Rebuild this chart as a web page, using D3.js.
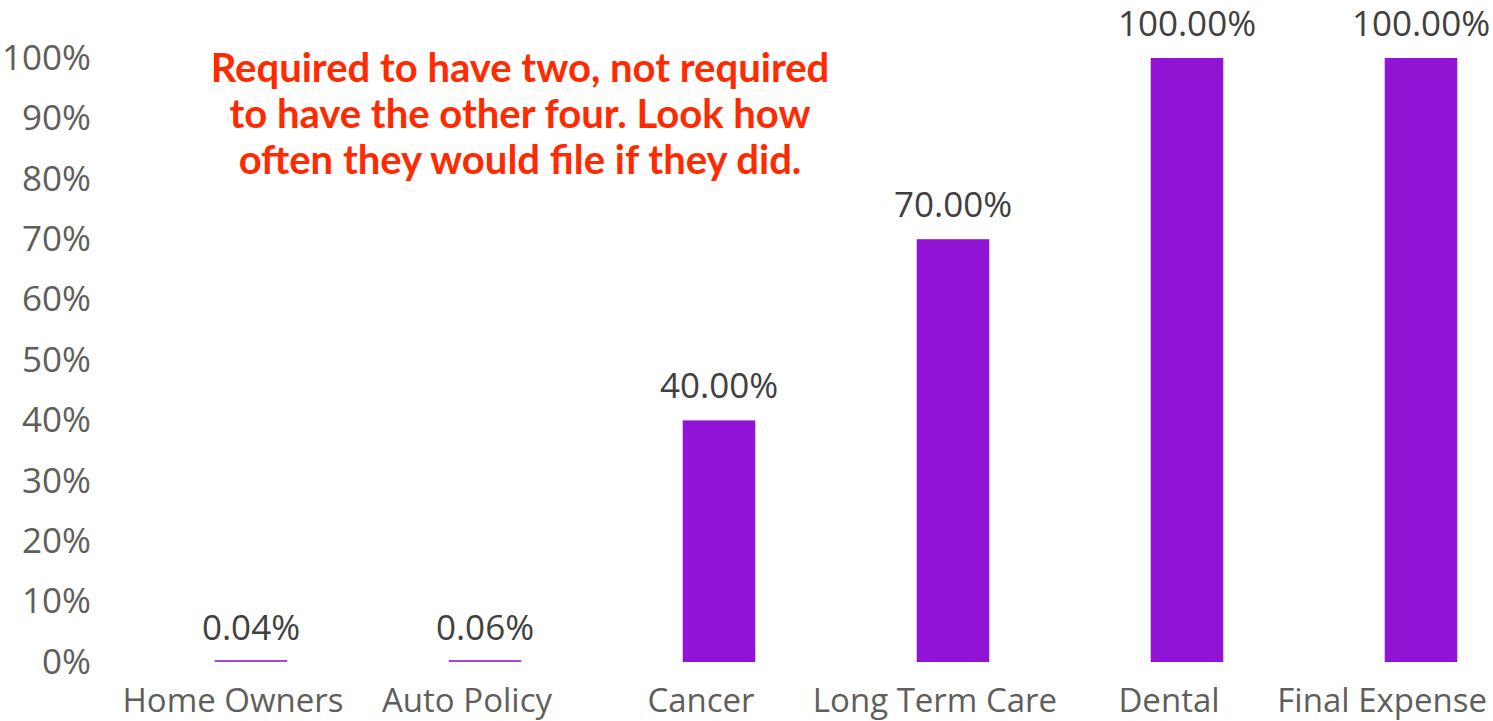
<!DOCTYPE html>
<html>
<head>
<meta charset="utf-8">
<script src="https://cdn.jsdelivr.net/npm/d3@7"></script>
<style>
  body { margin: 0; background: #fff; }
  svg { display: block; }
</style>
</head>
<body>
<script>
// Data
var categories = ['Home Owners', 'Auto Policy', 'Cancer', 'Long Term Care', 'Dental', 'Final Expense'];
var values = [0.0004, 0.0006, 0.40, 0.70, 1.00, 1.00];
var yTicks = [0, 0.1, 0.2, 0.3, 0.4, 0.5, 0.6, 0.7, 0.8, 0.9, 1.0];
var noteLines = ['Required to have two, not required', 'to have the other four. Look how', 'often they would file if they did.'];

var data = categories.map(function(c, i) { return {name: c, value: values[i]}; });

// Set up size
var width = 1493;
var height = 721;
var font = '"Open Sans", "Noto Sans", sans-serif';

var svg = d3.select('body').append('svg')
  .attr('width', width)
  .attr('height', height);

// Scales
var x = d3.scaleBand()
  .domain(categories)
  .range([134, 1538])
  .paddingInner(0.69)
  .paddingOuter(0.345);

var y = d3.scaleLinear()
  .domain([0, 1])
  .range([662, 58]);

// Y axis, labels only
var yAxis = svg.append('g')
  .attr('transform', 'translate(95,0)')
  .call(d3.axisLeft(y).tickValues(yTicks).tickFormat(d3.format('.0%')).tickSize(0).tickPadding(4));
yAxis.select('.domain').remove();
yAxis.selectAll('text')
  .style('font-family', font)
  .style('font-size', '35px')
  .style('fill', '#605e5c');

// Bars (tiny values still get a visible sliver)
svg.append('g').selectAll('rect')
  .data(data)
  .enter().append('rect')
  .attr('x', function(d) { return x(d.name); })
  .attr('width', x.bandwidth())
  .attr('y', function(d) { return Math.min(y(d.value), y(0) - 2); })
  .attr('height', function(d) { return Math.max(y(0) - y(d.value), 2); })
  .style('fill', function(d) { return d.value < 0.01 ? '#a445e0' : '#9013d6'; });

// Value labels
svg.append('g').selectAll('text')
  .data(data)
  .enter().append('text')
  .attr('x', function(d) { return x(d.name) + x.bandwidth() / 2; })
  .attr('y', function(d) { return y(d.value) - 22; })
  .attr('text-anchor', 'middle')
  .style('font-family', font)
  .style('font-size', '35px')
  .style('fill', '#404040')
  .text(function(d) { return d3.format('.2%')(d.value); });

// Category labels, kept inside the picture
var catLabels = svg.append('g').selectAll('text')
  .data(data)
  .enter().append('text')
  .attr('y', 712)
  .attr('text-anchor', 'middle')
  .style('font-family', font)
  .style('font-size', '33px')
  .style('fill', '#605e5c')
  .text(function(d) { return d.name; });
catLabels.attr('x', function(d) {
  var cx = x(d.name) + x.bandwidth() / 2 - 18;
  var w = this.getComputedTextLength();
  return Math.min(cx, width - 6 - w / 2);
});

// Annotation
svg.append('g').selectAll('text')
  .data(noteLines)
  .enter().append('text')
  .attr('x', 520)
  .attr('y', function(d, i) { return 82 + i * 46; })
  .attr('text-anchor', 'middle')
  .style('font-family', 'Lato, "Open Sans", sans-serif')
  .style('font-weight', 'bold')
  .style('font-size', '40px')
  .style('fill', '#ff2a00')
  .text(function(d) { return d; });
</script>
</body>
</html>
